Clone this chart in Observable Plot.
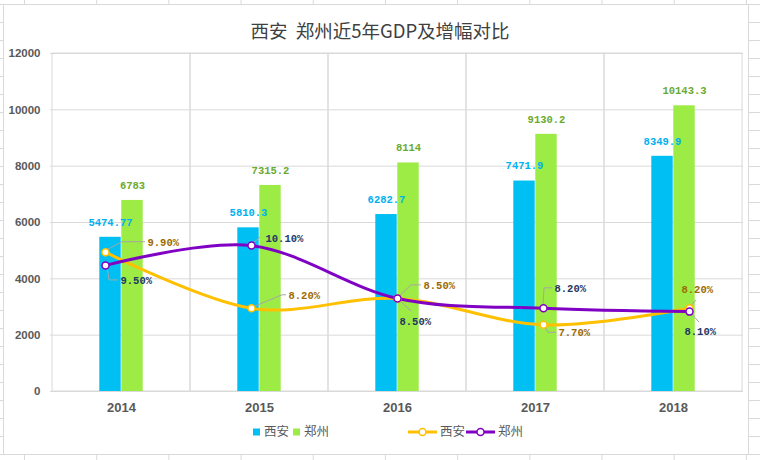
<!DOCTYPE html>
<html>
<head>
<meta charset="utf-8">
<script src="https://cdn.jsdelivr.net/npm/d3@7"></script>
<script src="https://cdn.jsdelivr.net/npm/@observablehq/plot@0.6"></script>
<style>
html, body { margin: 0; padding: 0; }
body {
  width: 760px; height: 460px; overflow: hidden; background-color: #fff;
  background-image:
    linear-gradient(to right, #d9d9d9 1px, transparent 1px),
    linear-gradient(to bottom, #d9d9d9 1px, transparent 1px);
  background-size: 72.2px 100%, 100% 18px;
  background-position: 24px 0, 0 4px;
}
#stage { position: absolute; left: 0; top: 0; width: 760px; height: 460px; }
#box { position: absolute; left: 3px; top: 4px; width: 746px; height: 451px; background: #fff; border: 1px solid #d9d9d9; box-sizing: border-box; }
#title { position: absolute; left: 0; width: 760px; top: 17px; text-align: center; font-family: "Noto Sans CJK SC", sans-serif; font-size: 18.5px; color: #404040; line-height: 26px; white-space: pre; }
.layer { position: absolute; left: 0; top: 0; }
</style>
</head>
<body>
<div id="stage">
  <div id="box"></div>
  <div id="title">西安  郑州近5年GDP及增幅对比</div>
</div>
<script>
// ---------- data ----------
const years = ["2014", "2015", "2016", "2017", "2018"];
const seriesNames = ["西安", "郑州"];
const xianGDP = [5474.77, 5810.3, 6282.7, 7471.9, 8349.9];
const zhengzhouGDP = [6783, 7315.2, 8114, 9130.2, 10143.3];
const xianGrowth = [9.9, 8.2, 8.5, 7.7, 8.2];
const zhengzhouGrowth = [9.5, 10.1, 8.5, 8.2, 8.1];
const yTicks = [0, 2000, 4000, 6000, 8000, 10000, 12000];

// ---------- style / layout ----------
const W = 760, H = 420, ML = 50, MR = 17, MT = 53, MB = 29;
const barColors = {"西安": "#00BFF3", "郑州": "#9DEB45"};
const barLabelColors = {"西安": "#00B0F0", "郑州": "#6AAA30"};
const lineColors = {"西安": "#FFC000", "郑州": "#8000C4"};
const lineLabelColors = {"西安": "#9C6A00", "郑州": "#1F3864"};
const bandW = (W - ML - MR) / years.length;
const barW = 22;
const monoFont = '"Liberation Mono", "DejaVu Sans Mono", monospace';
// callout placement (pixel offsets from each marker): label start & leader path
const calloutLayout = {
  "西安": [
    {dx: 42, dy: -10, path: [[2, -2], [17, -10], [40, -10]]},
    {dx: 37, dy: -13, path: [[2, -1], [31, -13], [35, -13]]},
    {dx: 26, dy: -13, path: [[1, -1], [14, -13], [24, -13]]},
    {dx: 15, dy: 8, path: [[1, 1], [5, 8], [13, 8]]},
    {dx: -8, dy: -19, path: [[2, -2], [7, -8]]}
  ],
  "郑州": [
    {dx: 15, dy: 15, path: [[2, 2], [4, 15], [13, 15]]},
    {dx: 14, dy: -7, path: [[2, -2], [9, -8]]},
    {dx: 2, dy: 23, path: [[2, 2], [14, 13]]},
    {dx: 11, dy: -20, path: [[0, -2], [1, -20], [9, -20]]},
    {dx: -5, dy: 20, path: [[2, 2], [10, 11]]}
  ]
};

// ---------- tables ----------
const gdpRows = years.flatMap((y, i) => [
  {year: y, series: "西安", value: xianGDP[i]},
  {year: y, series: "郑州", value: zhengzhouGDP[i]}
]);
const growthRows = years.flatMap((y, i) => [
  {year: y, series: "西安", value: xianGrowth[i], idx: i},
  {year: y, series: "郑州", value: zhengzhouGrowth[i], idx: i}
]);

const stage = document.getElementById("stage");

// ---------- bars (primary axis) ----------
const barPlot = Plot.plot({
  width: W, height: H,
  marginLeft: ML, marginRight: MR, marginTop: MT, marginBottom: MB,
  style: {background: "transparent", overflow: "visible", fontFamily: '"Liberation Sans", Arial, sans-serif'},
  x: {type: "band", domain: years, padding: 0},
  y: {domain: [yTicks[0], yTicks[yTicks.length - 1]]},
  marks: [
    Plot.gridY(yTicks, {stroke: "#d9d9d9", strokeOpacity: 1}),
    Plot.barY(years, {x: d => d, y: () => yTicks[yTicks.length - 1], fill: "none", stroke: "#d9d9d9"}),
    Plot.barY(gdpRows.filter(d => d.series === "西安"), {x: "year", y: "value", fill: barColors["西安"], insetLeft: bandW / 2 - barW, insetRight: bandW / 2}),
    Plot.barY(gdpRows.filter(d => d.series === "郑州"), {x: "year", y: "value", fill: barColors["郑州"], insetLeft: bandW / 2, insetRight: bandW / 2 - barW}),
    Plot.text(gdpRows.filter(d => d.series === "西安"), {x: "year", y: "value", text: d => String(d.value), dx: -barW / 2, dy: -15, fill: barLabelColors["西安"], fontFamily: monoFont, fontWeight: "bold", fontSize: 10.5}),
    Plot.text(gdpRows.filter(d => d.series === "郑州"), {x: "year", y: "value", text: d => String(d.value), dx: barW / 2, dy: -15, fill: barLabelColors["郑州"], fontFamily: monoFont, fontWeight: "bold", fontSize: 10.5}),
    Plot.axisY({ticks: yTicks, tickFormat: d => String(d), tickSize: 0, tickPadding: 10, label: null, fill: "#595959", fontWeight: "bold", fontSize: 11.5, fontFamily: '"Liberation Sans Narrow", "Liberation Sans", Arial, sans-serif'}),
    Plot.axisX({tickSize: 0, tickPadding: 11, label: null, fill: "#595959", fontWeight: "bold", fontSize: 13})
  ]
});
barPlot.classList.add("layer");
stage.appendChild(barPlot);

// ---------- growth lines (secondary axis, hidden) ----------
const linePlot = Plot.plot({
  width: W, height: H,
  marginLeft: ML, marginRight: MR, marginTop: MT, marginBottom: MB,
  style: {background: "transparent", overflow: "visible"},
  x: {type: "point", domain: years, padding: 0.365, axis: null},
  y: {domain: [5.68, 15.92], axis: null},
  marks: [
    ...seriesNames.map(s => Plot.line(growthRows.filter(d => d.series === s), {x: "year", y: "value", stroke: lineColors[s], strokeWidth: 3, curve: "cardinal"})),
    ...seriesNames.map(s => Plot.dot(growthRows.filter(d => d.series === s), {x: "year", y: "value", r: 3.5, fill: "white", stroke: lineColors[s], strokeWidth: 1.5})),
    ...growthRows.map(d => Plot.text([d], {x: "year", y: "value", text: r => r.value.toFixed(2) + "%", textAnchor: "start", dx: calloutLayout[d.series][d.idx].dx, dy: calloutLayout[d.series][d.idx].dy, fill: lineLabelColors[d.series], fontFamily: monoFont, fontWeight: "bold", fontSize: 10.5}))
  ]
});
linePlot.classList.add("layer");
stage.appendChild(linePlot);

// leader lines, positioned through the plot's own scales
const sx = linePlot.scale("x"), sy = linePlot.scale("y");
const leaders = d3.select(linePlot).insert("g", "g").attr("fill", "none").attr("stroke", "#a6a6a6").attr("stroke-width", 1);
growthRows.forEach(d => {
  const px = sx.apply(d.year), py = sy.apply(d.value);
  const pts = calloutLayout[d.series][d.idx].path.map(([ox, oy]) => [px + ox, py + oy]);
  leaders.append("path").attr("d", d3.line()(pts));
});

// ---------- legend ----------
const legend = d3.select(stage).append("svg").attr("class", "layer").attr("width", W).attr("height", 460)
  .style("font-family", '"Noto Sans CJK SC", sans-serif').style("font-size", "12.5px");
const ly = 432;
[["西安", 253], ["郑州", 293]].forEach(([s, x]) => {
  legend.append("rect").attr("x", x).attr("y", ly - 3.5).attr("width", 7).attr("height", 7).attr("fill", barColors[s]);
  legend.append("text").attr("x", x + 11).attr("y", ly).attr("dy", "0.35em").attr("fill", "#595959").text(s);
});
[["西安", 408], ["郑州", 466]].forEach(([s, x]) => {
  legend.append("line").attr("x1", x).attr("x2", x + 29).attr("y1", ly).attr("y2", ly).attr("stroke", lineColors[s]).attr("stroke-width", 3);
  legend.append("circle").attr("cx", x + 14.5).attr("cy", ly).attr("r", 3.5).attr("fill", "white").attr("stroke", lineColors[s]).attr("stroke-width", 1.5);
  legend.append("text").attr("x", x + 32).attr("y", ly).attr("dy", "0.35em").attr("fill", "#595959").text(s);
});
</script>
</body>
</html>
